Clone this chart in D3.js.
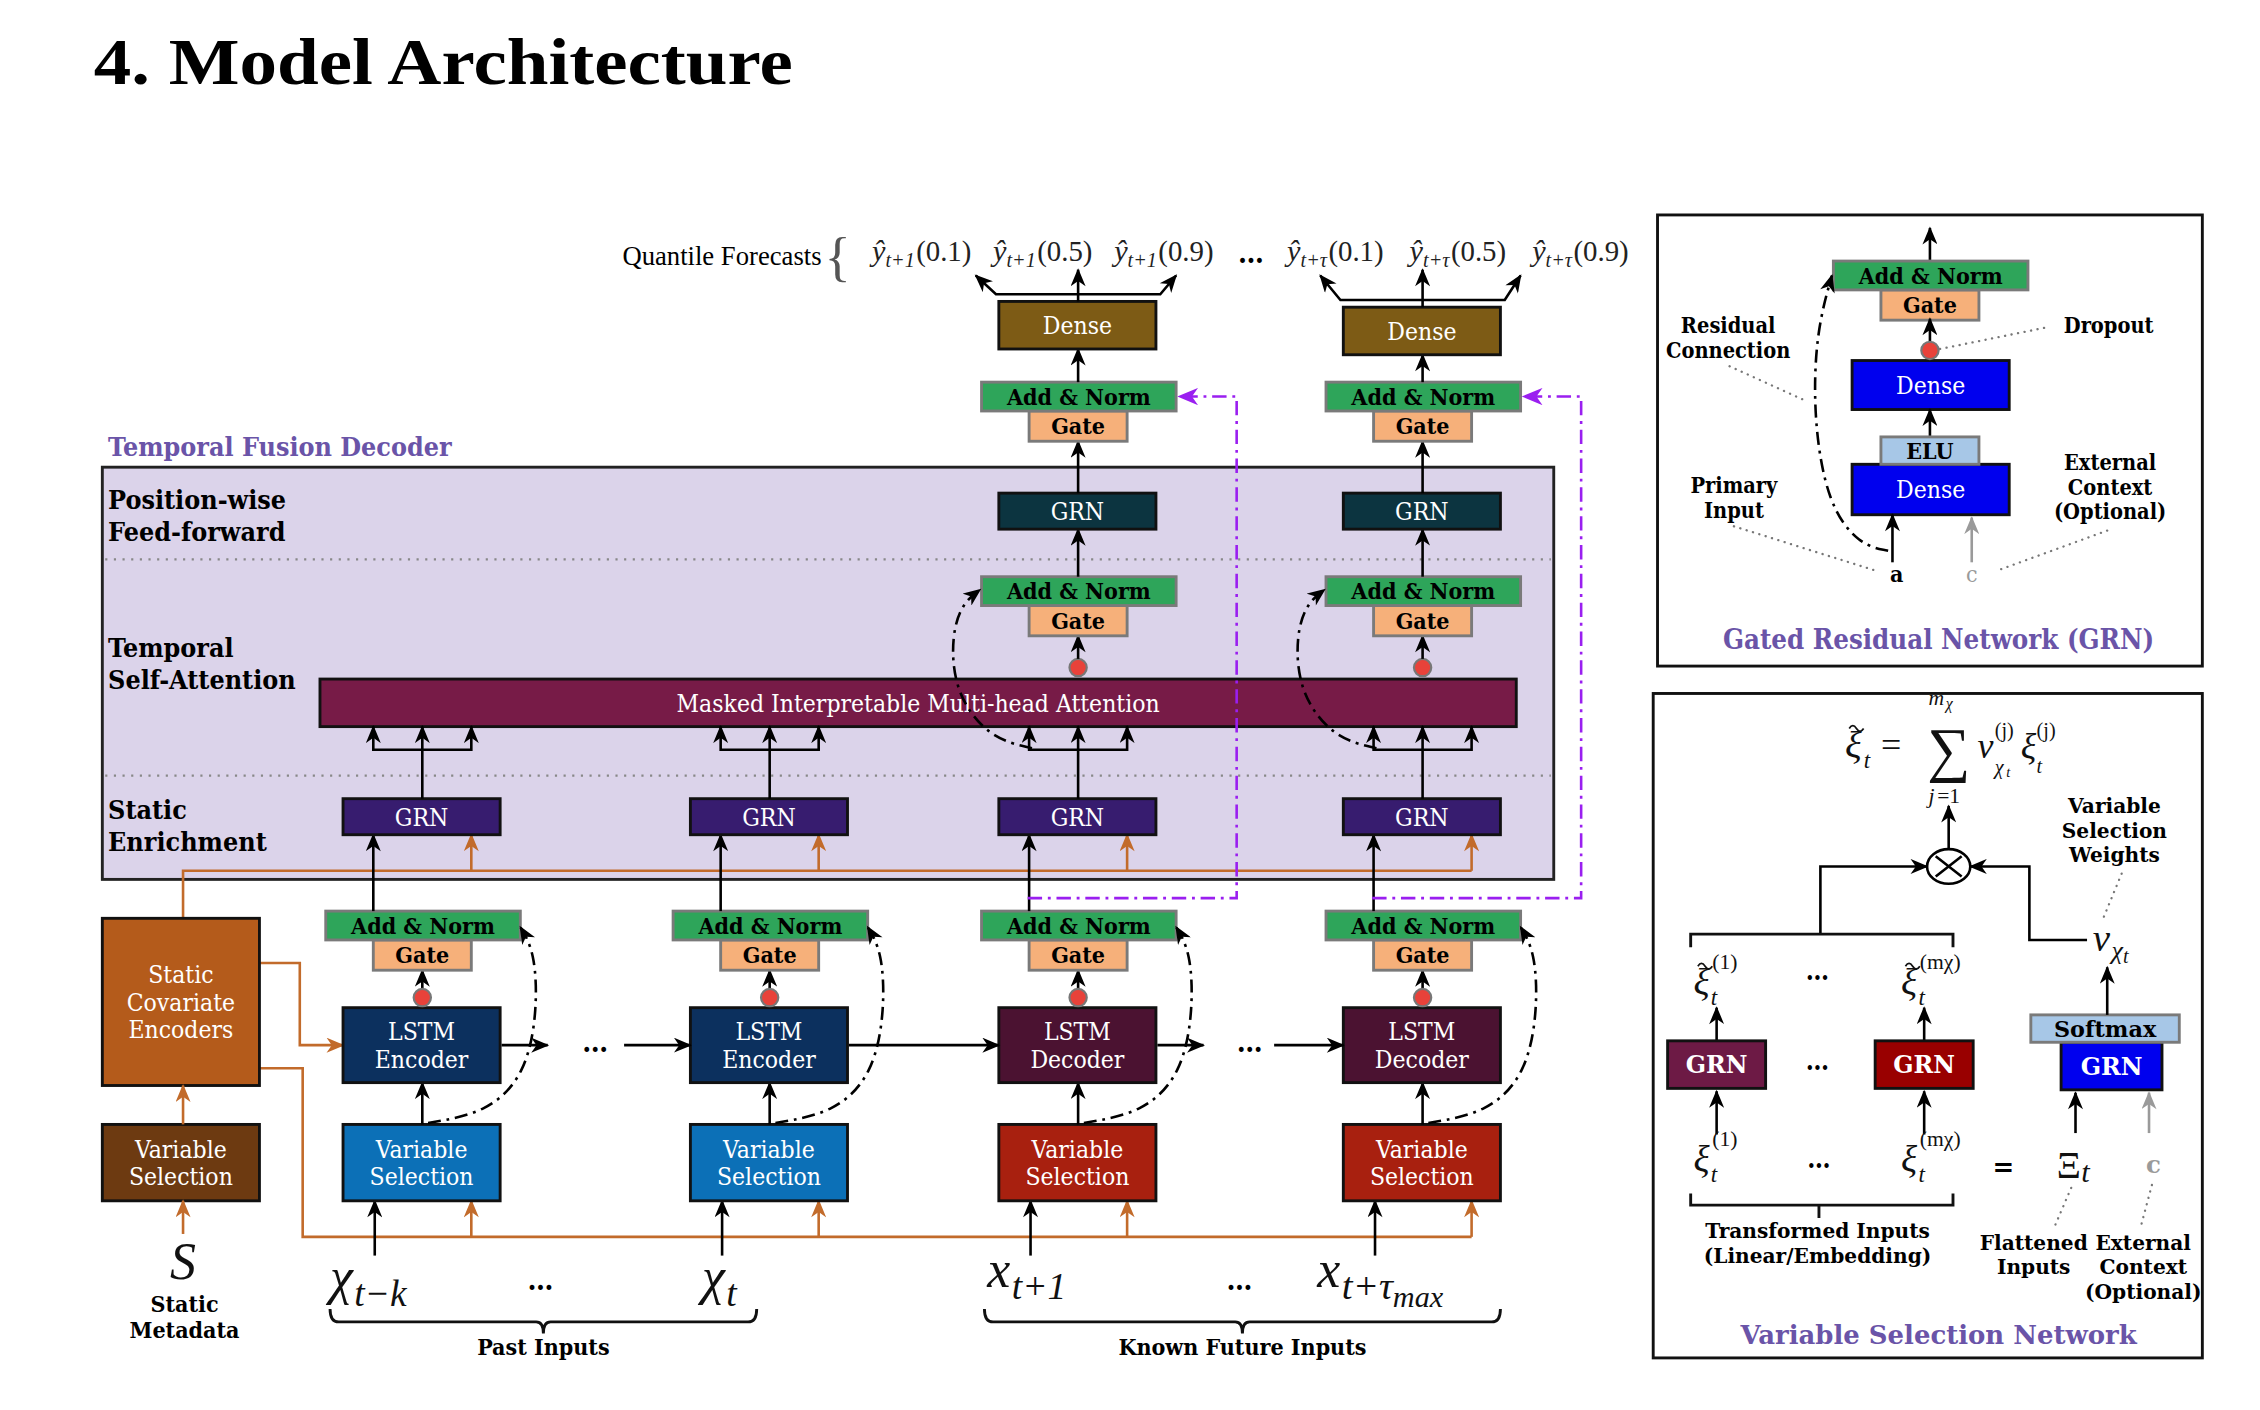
<!DOCTYPE html>
<html>
<head>
<meta charset="utf-8">
<script src="https://cdn.jsdelivr.net/npm/d3@7"></script>
<style>
  body { margin: 0; background: #fff; }
  svg { display: block; }
</style>
</head>
<body>
<script>
// ---- diagram content ----
var steps = ["t-k", "t", "t+1", "t+tau"];
var stepKind = ["enc", "enc", "dec", "dec"];
var horizons = ["t+1", "t+τ"];
var quantiles = ["0.1", "0.5", "0.9"];
var layerLabels = [["Position-wise", "Feed-forward"], ["Temporal", "Self-Attention"], ["Static", "Enrichment"]];
var lstmLabels = { enc: ["LSTM", "Encoder"], dec: ["LSTM", "Decoder"] };
var inputGroups = ["Past Inputs", "Known Future Inputs"];
var grnNotes = [["Residual", "Connection"], ["Dropout"], ["Primary", "Input"], ["External", "Context", "(Optional)"]];
var vsnNotes = [["Variable", "Selection", "Weights"], ["Transformed Inputs", "(Linear/Embedding)"], ["Flattened", "Inputs"], ["External", "Context", "(Optional)"]];
var vsnInputs = ["(1)", "(mχ)"];

var colors = {
  dense: "#7d5b15", add: "#2ea55a", gate: "#f6b07a", ffGRN: "#0c3440", att: "#771b47",
  seGRN: "#371c6f", lstm: { enc: "#0c305e", dec: "#4b1231" }, vs: { enc: "#0c70b7", dec: "#a8200f" },
  sce: "#b45b1b", vsStatic: "#6d3a11", orange: "#c26b2b", purple: "#9a1ff0", panel: "#dbd3ea",
  blue: "#0000ee", elu: "#a7c7e7", title: "#6a54a8", dot: "#e8423a",
  vsnGRN: ["#6d1a45", "#990000"]
};

var F = "'DejaVu Serif Condensed','DejaVu Serif',serif";
var FW = "'DejaVu Serif',serif";
var MF = "'Liberation Serif','DejaVu Serif',serif";

var svg = d3.select("body").append("svg")
  .attr("width", 2260).attr("height", 1410)
  .attr("viewBox", "0 0 1568 978");

// column positions
var colX = d3.scaleOrdinal().domain(steps).range([293, 534, 748, 987]);

// ---- markers ----
var defs = svg.append("defs");
function marker(id, color, size) {
  defs.append("marker").attr("id", id)
    .attr("viewBox", "0 0 12 10").attr("refX", 11).attr("refY", 5)
    .attr("markerWidth", size).attr("markerHeight", size * 0.8)
    .attr("markerUnits", "userSpaceOnUse").attr("orient", "auto")
    .append("path").attr("d", "M0,0 L12,5 L0,10 L3.5,5 Z").attr("fill", color);
}
marker("ah", "#000", 13);
marker("ahO", colors.orange, 13);
marker("ahG", "#9a9a9a", 13);
marker("ahP", colors.purple, 15);

// ---- helpers ----
function arrow(g, pts, color, mk, dash, w) {
  var p = g.append("path").attr("d", d3.line()(pts))
    .attr("fill", "none").attr("stroke", color || "#000").attr("stroke-width", w || 1.8);
  if (mk) p.attr("marker-end", "url(#" + mk + ")");
  if (dash) p.attr("stroke-dasharray", dash);
  return p;
}
function curve(g, pts, mk) {
  return g.append("path").attr("d", d3.line().curve(d3.curveBasis)(pts))
    .attr("fill", "none").attr("stroke", "#000").attr("stroke-width", 1.8)
    .attr("stroke-dasharray", "9,4,2,4").attr("marker-end", "url(#" + (mk || "ah") + ")");
}
function label(g, x, y, lines, o) {
  o = o || {};
  var fs = o.size || 16, lh = o.lh || fs * 1.08;
  var t = g.append("text").attr("x", x).attr("y", y)
    .attr("text-anchor", o.anchor || "middle")
    .style("font-family", o.family || F).style("font-size", fs + "px")
    .style("font-weight", o.weight || "bold").attr("fill", o.color || "#000");
  lines.forEach(function (s, i) {
    t.append("tspan").attr("x", x).attr("dy", i ? lh : 0).text(s);
  });
  return t;
}
function box(g, x, y, w, h, fill, lines, o) {
  o = o || {};
  g.append("rect").attr("x", x).attr("y", y).attr("width", w).attr("height", h)
    .attr("fill", fill).attr("stroke", o.stroke || "#111").attr("stroke-width", o.sw || 2);
  if (lines) {
    var fs = o.size || 16, lh = o.lh || fs * 1.1;
    label(g, x + w / 2, y + h / 2 - (lines.length - 1) * lh / 2 + fs * 0.36, lines,
      { size: fs, lh: lh, color: o.color || "#fff", weight: o.weight || "normal", family: o.family });
  }
}
function addNorm(g, cx, y) {
  box(g, cx - 34, y + 20, 68, 21, colors.gate, ["Gate"], { stroke: "#7a7a7a", color: "#000", weight: "bold", size: 16 });
  box(g, cx - 67, y, 135, 20, colors.add, ["Add & Norm"], { stroke: "#7a7a7a", color: "#000", weight: "bold", size: 16 });
}
function dropDot(g, cx, y) {
  g.append("circle").attr("cx", cx).attr("cy", y).attr("r", 6)
    .attr("fill", colors.dot).attr("stroke", "#777").attr("stroke-width", 1.5);
}
function dotted(g, pts, color) {
  g.append("path").attr("d", d3.line()(pts)).attr("fill", "none")
    .attr("stroke", color || "#777").attr("stroke-width", 1.6)
    .attr("stroke-dasharray", "0.1,4.5").attr("stroke-linecap", "round");
}
// math text: parts = [text, size, dx, dy, italic]
function math(g, x, y, parts, color, anchor) {
  var t = g.append("text").attr("x", x).attr("y", y)
    .attr("text-anchor", anchor || "start")
    .style("font-family", MF).attr("fill", color || "#111");
  parts.forEach(function (p) {
    t.append("tspan").attr("dx", p[2] || 0).attr("dy", p[3] || 0)
      .style("font-size", p[1] + "px").style("font-style", p[4] === false ? "normal" : "italic").text(p[0]);
  });
  return t;
}
// single math glyph run at an absolute place
function mt(g, x, y, s, size, o) {
  o = o || {};
  return g.append("text").attr("x", x).attr("y", y)
    .attr("text-anchor", o.anchor || "start")
    .style("font-family", MF).style("font-size", size + "px")
    .style("font-style", o.roman ? "normal" : "italic")
    .attr("fill", o.color || "#111").text(s);
}
// tilde accent drawn as a small wave
function tilde(g, x, y, w) {
  var h = w / 4;
  g.append("path").attr("d", "M" + x + "," + (y + h / 2) + " q" + (w / 4) + "," + (-h * 1.6) + " " + (w / 2) + ",0" +
    " t" + (w / 2) + ",0")
    .attr("fill", "none").attr("stroke", "#111").attr("stroke-width", 1.2);
}
function underBrace(g, x1, x2, y) {
  var m = (x1 + x2) / 2;
  g.append("path").attr("d",
    "M" + x1 + "," + (y - 9) + " Q" + x1 + "," + y + " " + (x1 + 6) + "," + y +
    " L" + (m - 5) + "," + y + " Q" + m + "," + y + " " + m + "," + (y + 8) +
    " Q" + m + "," + y + " " + (m + 5) + "," + y +
    " L" + (x2 - 6) + "," + y + " Q" + x2 + "," + y + " " + x2 + "," + (y - 9))
    .attr("fill", "none").attr("stroke", "#111").attr("stroke-width", 2);
}

// ---- title ----
svg.append("text").attr("x", 65).attr("y", 58)
  .style("font-family", "'Liberation Serif',serif").style("font-weight", "bold").style("font-size", "46px")
  .attr("textLength", 485).attr("lengthAdjust", "spacingAndGlyphs")
  .text("4.  Model Architecture");

var main = svg.append("g");

// ---- temporal fusion decoder panel ----
label(main, 75, 316, ["Temporal Fusion Decoder"], { anchor: "start", size: 18.5, color: colors.title });
main.append("rect").attr("x", 71).attr("y", 324).attr("width", 1007).attr("height", 286)
  .attr("fill", colors.panel).attr("stroke", "#222").attr("stroke-width", 2);
[388, 538].forEach(function (y) {
  main.append("line").attr("x1", 73).attr("x2", 1076).attr("y1", y).attr("y2", y)
    .attr("stroke", "#888").attr("stroke-width", 1.5).attr("stroke-dasharray", "1.5,4.5");
});
[353, 456, 568].forEach(function (y, i) {
  label(main, 75, y, layerLabels[i], { anchor: "start", size: 18.5, lh: 22 });
});

// attention block
box(main, 222, 471, 830, 33, colors.att, ["Masked Interpretable Multi-head Attention"], { size: 17 });

// orange context lines
arrow(main, [[127, 637], [127, 604], [colX("t+tau") + 34, 604]], colors.orange);
arrow(main, [[180, 668], [208, 668], [208, 725], [238, 725]], colors.orange, "ahO");
arrow(main, [[180, 741], [210, 741], [210, 858], [colX("t+tau") + 34, 858]], colors.orange);

steps.forEach(function (s, i) {
  var cx = colX(s), kind = stepKind[i];
  // inputs
  arrow(main, [[cx - 33, 871], [cx - 33, 833]], "#000", "ah");
  arrow(main, [[cx + 34, 858], [cx + 34, 833]], colors.orange, "ahO");
  box(main, cx - 55, 780, 109, 53, colors.vs[kind], ["Variable", "Selection"], { size: 17, lh: 19 });
  arrow(main, [[cx, 780], [cx, 751]], "#000", "ah");
  box(main, cx - 55, 699, 109, 52, colors.lstm[kind], lstmLabels[kind], { size: 17, lh: 19 });
  arrow(main, [[cx, 687], [cx, 673]], "#000", "ah");
  dropDot(main, cx, 692);
  addNorm(main, cx, 632);
  curve(main, [[cx + 4, 779], [cx + 45, 772], [cx + 72, 745], [cx + 80, 700], [cx + 78, 660], [cx + 68, 643]]);
  // static enrichment
  arrow(main, [[cx - 34, 632], [cx - 34, 579]], "#000", "ah");
  arrow(main, [[cx + 34, 604], [cx + 34, 579]], colors.orange, "ahO");
  box(main, cx - 55, 554, 109, 25, colors.seGRN, ["GRN"], { size: 17 });
  // into attention
  arrow(main, [[cx, 554], [cx, 504]], "#000", "ah");
  arrow(main, [[cx, 520], [cx - 34, 520], [cx - 34, 504]], "#000", "ah");
  arrow(main, [[cx, 520], [cx + 34, 520], [cx + 34, 504]], "#000", "ah");
});

// LSTM chain
var lx = steps.map(colX);
arrow(main, [[lx[0] + 55, 725], [lx[0] + 87, 725]], "#000", "ah");
label(main, 413, 730, ["…"], { size: 20 });
arrow(main, [[433, 725], [lx[1] - 55, 725]], "#000", "ah");
arrow(main, [[lx[1] + 55, 725], [lx[2] - 55, 725]], "#000", "ah");
arrow(main, [[lx[2] + 55, 725], [lx[2] + 87, 725]], "#000", "ah");
label(main, 867, 730, ["…"], { size: 20 });
arrow(main, [[884, 725], [lx[3] - 55, 725]], "#000", "ah");

// decoder-only layers
var qGroups = [[605, 773], [893, 1063]];
["t+1", "t+tau"].forEach(function (s, h) {
  var cx = colX(s);
  // skip connection (purple)
  arrow(main, [[cx - 35, 623], [cx + 110, 623], [cx + 110, 275], [cx + 70, 275]], colors.purple, "ahP", "10,4,2,4", 1.8);
  // attention gate
  dropDot(main, cx, 463);
  arrow(main, [[cx, 457], [cx, 441]], "#000", "ah");
  addNorm(main, cx, 400);
  curve(main, [[cx - 32, 519], [cx - 62, 512], [cx - 86, 480], [cx - 88, 440], [cx - 80, 418], [cx - 68, 409]]);
  arrow(main, [[cx, 400], [cx, 367]], "#000", "ah");
  box(main, cx - 55, 342, 109, 25, colors.ffGRN, ["GRN"], { size: 17 });
  arrow(main, [[cx, 342], [cx, 306]], "#000", "ah");
  addNorm(main, cx, 265);
  var dy = h ? 213 : 209;
  arrow(main, [[cx, 265], [cx, dy + 33]], "#000", "ah");
  box(main, cx - 55, dy, 109, 33, colors.dense, ["Dense"], { size: 17 });
  // fan out to quantiles
  var fy = dy - 5;
  arrow(main, [[cx, dy], [cx, 187]], "#000", "ah");
  arrow(main, [[cx, fy], [cx - 57, fy], [cx - 71, 191]], "#000", "ah");
  arrow(main, [[cx, fy], [cx + 57, fy], [cx + 68, 191]], "#000", "ah");
  var qx = d3.scalePoint().domain(quantiles).range(qGroups[h]);
  quantiles.forEach(function (q) {
    math(main, qx(q), 181, [["ŷ", 21], [horizons[h], 14, 0, 4], ["(" + q + ")", 20, 1, -4, false]], "#222");
  });
});
label(main, 868, 182, ["…"], { size: 20 });
label(main, 570, 184, ["Quantile Forecasts"], { anchor: "end", size: 18.5, weight: "normal", family: MF });
main.append("text").attr("x", 572).attr("y", 191).style("font-family", MF).style("font-size", "38px")
  .attr("fill", "#555").text("{");

// static branch
box(main, 71, 637, 109, 116, colors.sce, ["Static", "Covariate", "Encoders"], { size: 17, lh: 19 });
box(main, 71, 780, 109, 53, colors.vsStatic, ["Variable", "Selection"], { size: 17, lh: 19 });
arrow(main, [[127, 780], [127, 753]], colors.orange, "ahO");
arrow(main, [[127, 856], [127, 833]], colors.orange, "ahO");
mt(main, 127, 887, "S", 36, { anchor: "middle" });
label(main, 128, 910, ["Static", "Metadata"], { size: 16, lh: 18 });

// inputs
math(main, 229, 898, [["χ", 36], ["t−k", 26, 1, 8]]);
label(main, 375, 895, ["…"], { size: 20 });
math(main, 487, 898, [["χ", 36], ["t", 26, 1, 8]]);
math(main, 685, 893, [["x", 36], ["t+1", 26, 1, 8]]);
label(main, 860, 895, ["…"], { size: 20 });
math(main, 914, 893, [["x", 36], ["t+τ", 27, 1, 8], ["max", 21, 0, 6]]);
underBrace(main, 229, 525, 917);
underBrace(main, 683, 1041, 917);
label(main, 377, 940, [inputGroups[0]], { size: 16 });
label(main, 862, 940, [inputGroups[1]], { size: 16 });

// ---- GRN panel ----
var gp = svg.append("g");
gp.append("rect").attr("x", 1150).attr("y", 149).attr("width", 378).attr("height", 313)
  .attr("fill", "#fff").attr("stroke", "#111").attr("stroke-width", 2);
var gx = 1339;
arrow(gp, [[gx, 181], [gx, 158]], "#000", "ah");
addNorm(gp, gx, 181);
arrow(gp, [[gx, 237], [gx, 221]], "#000", "ah");
box(gp, 1285, 250, 109, 34, colors.blue, ["Dense"], { size: 17 });
dropDot(gp, gx, 243);
arrow(gp, [[gx, 303], [gx, 284]], "#000", "ah");
box(gp, 1285, 322, 109, 35, colors.blue, ["Dense"], { size: 17 });
box(gp, 1305, 303, 68, 19, colors.elu, ["ELU"], { stroke: "#7a7a7a", color: "#000", weight: "bold", size: 16 });
arrow(gp, [[1313, 390], [1313, 357]], "#000", "ah");
arrow(gp, [[1368, 390], [1368, 359]], "#9a9a9a", "ahG");
curve(gp, [[1310, 382], [1290, 378], [1268, 350], [1258, 290], [1260, 230], [1271, 191]]);
label(gp, 1316, 404, ["a"], { size: 16 });
label(gp, 1368, 404, ["c"], { size: 16, color: "#9a9a9a", weight: "normal" });
label(gp, 1199, 231, grnNotes[0], { size: 15, lh: 17 });
label(gp, 1463, 231, grnNotes[1], { size: 15 });
label(gp, 1203, 342, grnNotes[2], { size: 15, lh: 17 });
label(gp, 1464, 326, grnNotes[3], { size: 15, lh: 17 });
dotted(gp, [[1200, 254], [1253, 278]]);
dotted(gp, [[1346, 242], [1420, 227]]);
dotted(gp, [[1203, 365], [1302, 396]]);
dotted(gp, [[1462, 368], [1385, 396]]);
label(gp, 1345, 450, ["Gated Residual Network (GRN)"], { size: 19, color: colors.title });

// ---- Variable Selection Network panel ----
var vp = svg.append("g");
vp.append("rect").attr("x", 1147).attr("y", 481).attr("width", 381).attr("height", 461)
  .attr("fill", "#fff").attr("stroke", "#111").attr("stroke-width", 2);
var mx = 1352, my = 601;
// formula: xi~_t = sum_{j=1}^{m_chi} v^(j)_{chi_t} xi^(j)_t
mt(vp, 1280, 526, "ξ", 27);
tilde(vp, 1283, 504, 10);
mt(vp, 1293, 533, "t", 16);
mt(vp, 1305, 525, "=", 25, { roman: true });
mt(vp, mx, 534, "∑", 42, { roman: true, anchor: "middle" });
mt(vp, mx - 14, 489, "m", 15);
mt(vp, mx - 2, 492, "χ", 11);
mt(vp, mx - 14, 557, "j", 15);
mt(vp, mx - 8, 557, "=1", 15, { roman: true });
mt(vp, 1372, 526, "v", 25);
mt(vp, 1384, 511, "(j)", 14, { roman: true });
mt(vp, 1384, 537, "χ", 14);
mt(vp, 1392, 539, "t", 10);
mt(vp, 1402, 526, "ξ", 25);
mt(vp, 1413, 511, "(j)", 14, { roman: true });
mt(vp, 1413, 536, "t", 14);
// multiply node
arrow(vp, [[mx, my - 12], [mx, 559]], "#000", "ah");
vp.append("ellipse").attr("cx", mx).attr("cy", my).attr("rx", 15).attr("ry", 12)
  .attr("fill", "#fff").attr("stroke", "#000").attr("stroke-width", 1.8);
arrow(vp, [[mx - 9, my - 7], [mx + 9, my + 7]]);
arrow(vp, [[mx - 9, my + 7], [mx + 9, my - 7]]);
arrow(vp, [[1263, 648], [1263, my], [mx - 15, my]], "#000", "ah");
arrow(vp, [[1448, 652], [1408, 652], [1408, my], [mx + 15, my]], "#000", "ah");
vp.append("path").attr("d", "M1173,657 L1173,648 L1355,648 L1355,657")
  .attr("fill", "none").attr("stroke", "#111").attr("stroke-width", 2);
// transformed inputs
[1191, 1335].forEach(function (x, i) {
  mt(vp, x - 16, 690, "ξ", 26);
  tilde(vp, x - 13, 669, 10);
  mt(vp, x - 3, 672, vsnInputs[i], 15, { roman: true });
  mt(vp, x - 4, 697, "t", 16);
  arrow(vp, [[x, 722], [x, 699]], "#000", "ah");
  box(vp, x - 34, 722, 68, 33, colors.vsnGRN[i], ["GRN"], { size: 16.5, weight: "bold", family: FW });
  arrow(vp, [[x, 787], [x, 757]], "#000", "ah");
  mt(vp, x - 16, 813, "ξ", 26);
  mt(vp, x - 3, 795, vsnInputs[i], 15, { roman: true });
  mt(vp, x - 4, 820, "t", 16);
});
label(vp, 1261, 680, ["…"], { size: 18 });
label(vp, 1261, 742, ["…"], { size: 18 });
label(vp, 1262, 810, ["…"], { size: 18 });
label(vp, 1390, 816, ["="], { size: 18, family: FW });
mt(vp, 1427, 817, "Ξ", 26, { roman: true });
mt(vp, 1444, 820, "t", 21);
label(vp, 1494, 814, ["c"], { size: 17, color: "#9a9a9a", family: FW });
vp.append("path").attr("d", "M1173,828 L1173,836 L1355,836 L1355,828 M1262,836 L1262,845")
  .attr("fill", "none").attr("stroke", "#111").attr("stroke-width", 2);
// weights branch
arrow(vp, [[1440, 786], [1440, 758]], "#000", "ah");
arrow(vp, [[1491, 786], [1491, 758]], "#9a9a9a", "ahG");
box(vp, 1430, 723, 70, 33, colors.blue, ["GRN"], { size: 16.5, weight: "bold", family: FW });
box(vp, 1409, 704, 103, 19, colors.elu, ["Softmax"], { stroke: "#7a7a7a", color: "#000", weight: "bold", size: 15.5, family: FW });
arrow(vp, [[1462, 704], [1462, 671]], "#000", "ah");
math(vp, 1452, 660, [["v", 27], ["χ", 18, 1, 5], ["t", 14, 0, 3]]);
dotted(vp, [[1472, 606], [1458, 640]]);
dotted(vp, [[1437, 824], [1425, 852]]);
dotted(vp, [[1493, 822], [1485, 852]]);
label(vp, 1467, 564, vsnNotes[0], { size: 14, lh: 17, family: FW });
label(vp, 1261, 859, vsnNotes[1], { size: 14, lh: 17, family: FW });
label(vp, 1411, 867, vsnNotes[2], { size: 14, lh: 17, family: FW });
label(vp, 1487, 867, vsnNotes[3], { size: 14, lh: 17, family: FW });
label(vp, 1345, 932, ["Variable Selection Network"], { size: 18, color: colors.title, family: FW });
</script>
</body>
</html>
